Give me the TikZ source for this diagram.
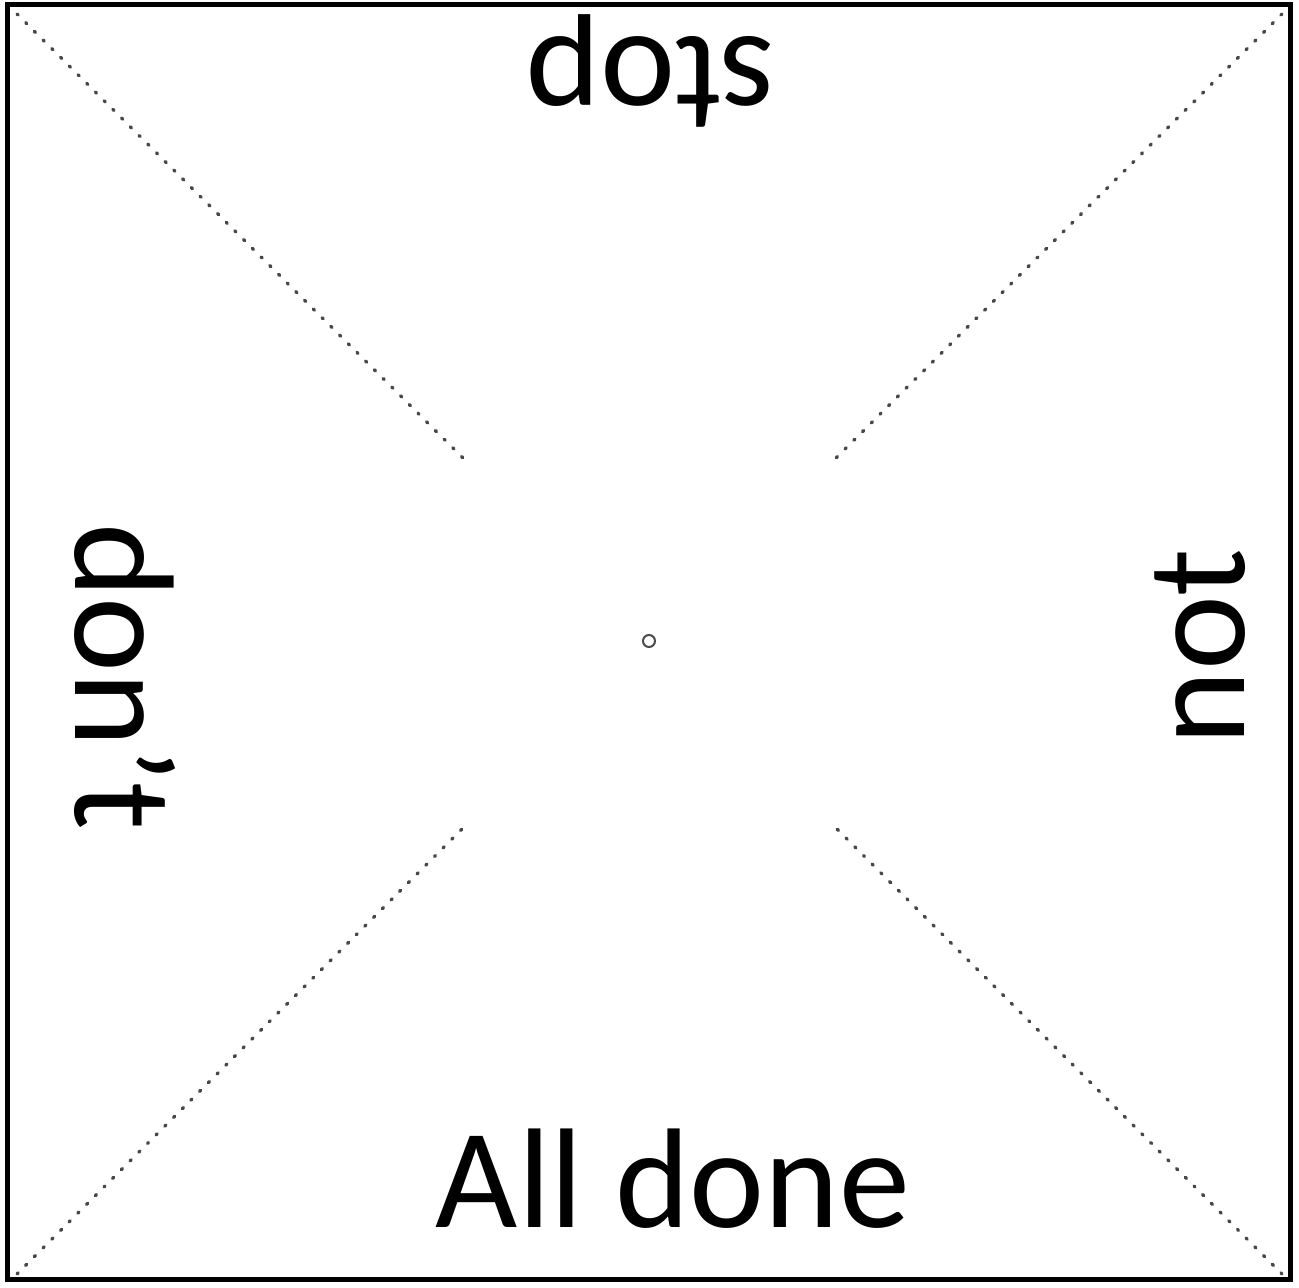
\documentclass[tikz,border=0pt]{standalone}
\usepackage{fontspec}
\setmainfont{Carlito}
\tikzset{
  foldline/.style={draw=black!72, line width=3.4pt, dash pattern=on 1.5pt off 10.8pt, line cap=round},
  word/.style={inner sep=0pt, anchor=base, font=\fontsize{142}{170}\selectfont},
  frame/.style={draw=black, line width=5pt},
}
\begin{document}
\begin{tikzpicture}[x=1pt,y=1pt]
\useasboundingbox (0,0) rectangle (1299,1288);
\draw[frame] (7,8) rectangle (1290,1283.5);
% fold lines
\coordinate (tl) at (17,1274);
\coordinate (tli) at (467,826);
\coordinate (tr) at (1282,1274);
\coordinate (tri) at (832,826);
\coordinate (bl) at (17,14);
\coordinate (bli) at (467,464);
\coordinate (br) at (1282,14);
\coordinate (bri) at (832,464);
\draw[foldline] (tl) -- (tli);
\draw[foldline] (tr) -- (tri);
\draw[foldline] (bl) -- (bli);
\draw[foldline] (br) -- (bri);
% centre pin
\draw[black!70, line width=2pt] (649,647) circle (6);
% words
\node[word, rotate=180] (stop) at (651,1250) {stop};
\node[word, rotate=-90] (dont) at (75,611) {don’t};
\node[word, rotate=90] (not) at (1244,641) {not};
\node[word] (alldone) at (673,60) {All done};
\end{tikzpicture}
\end{document}
